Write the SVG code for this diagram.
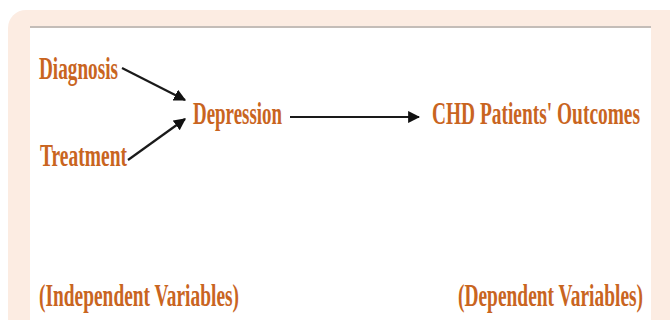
<svg xmlns="http://www.w3.org/2000/svg" width="670" height="320" viewBox="0 0 670 320">
<defs>
<style>
.t{font-family:"Liberation Serif","Times New Roman",serif;font-weight:bold;font-size:31px;fill:#c9651f;}
.c{stroke:#1a1a1a;stroke-width:2.2;fill:none;}
</style>
<marker id="ah" viewBox="0 0 10 10" refX="9" refY="5" markerWidth="5.5" markerHeight="5.5" markerUnits="strokeWidth" orient="auto">
<path d="M0,0 L10,5 L0,10 Z" fill="#111"/>
</marker>
</defs>
<rect x="0" y="0" width="670" height="320" fill="#ffffff"/>
<rect x="8" y="10" width="680" height="340" rx="18" fill="#fcece2"/>
<rect x="30" y="26" width="621" height="300" fill="#ffffff"/>
<line x1="30" y1="27" x2="651" y2="27" stroke="#c4bdb8" stroke-width="2"/>
<g id="connectors">
<line class="c" x1="122" y1="68" x2="185" y2="100" marker-end="url(#ah)"/>
<line class="c" x1="128" y1="160" x2="185" y2="119" marker-end="url(#ah)"/>
<line class="c" x1="290" y1="117" x2="419" y2="117" marker-end="url(#ah)"/>
</g>
<g id="diagnosis" transform="translate(39,79) scale(0.63,1)"><text class="t" x="0" y="0" textLength="125.4" lengthAdjust="spacingAndGlyphs">Diagnosis</text></g>
<g id="treatment" transform="translate(40,166) scale(0.63,1)"><text class="t" x="0" y="0" textLength="138.1" lengthAdjust="spacingAndGlyphs">Treatment</text></g>
<g id="depression" transform="translate(193,124) scale(0.63,1)"><text class="t" x="0" y="0" textLength="141.3" lengthAdjust="spacingAndGlyphs">Depression</text></g>
<g id="outcomes" transform="translate(432,124) scale(0.63,1)"><text class="t" x="0" y="0" textLength="330.2" lengthAdjust="spacingAndGlyphs">CHD Patients' Outcomes</text></g>
<g id="independent" transform="translate(39,306) scale(0.63,1)"><text class="t" x="0" y="0" textLength="317.5" lengthAdjust="spacingAndGlyphs">(Independent Variables)</text></g>
<g id="dependent" transform="translate(458,306) scale(0.63,1)"><text class="t" x="0" y="0" textLength="293.7" lengthAdjust="spacingAndGlyphs">(Dependent Variables)</text></g>
</svg>
